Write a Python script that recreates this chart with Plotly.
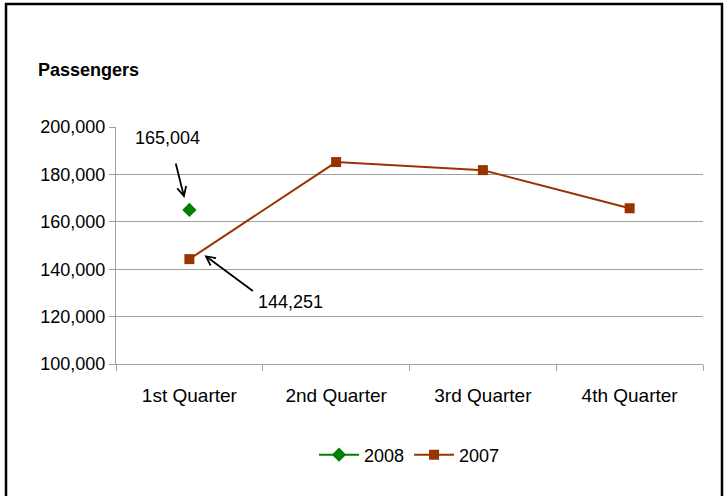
import plotly.graph_objects as go

categories = ["1st Quarter", "2nd Quarter", "3rd Quarter", "4th Quarter"]
series_2008 = [165004, None, None, None]
series_2007 = [144251, 185200, 181800, 165700]
ytick_vals = [100000, 120000, 140000, 160000, 180000, 200000]

FONT = "Liberation Sans, Arial, sans-serif"
BROWN = "#993300"
GREEN = "#008000"
GRID = "#A0A0A0"

W, H = 724, 496
L, R, T, B = 116, 21, 127, 132
pw, ph = W - L - R, H - T - B

def px(x):
    return (x - L) / pw

def py(y):
    return (H - B - y) / ph

fig = go.Figure()
fig.add_trace(go.Scatter(x=categories, y=series_2008, name="2008", mode="lines+markers",
                         line=dict(color=GREEN, width=2),
                         marker=dict(symbol="diamond", size=11, color=GREEN)))
fig.add_trace(go.Scatter(x=categories, y=series_2007, name="2007", mode="lines+markers",
                         line=dict(color=BROWN, width=2),
                         marker=dict(symbol="square", size=10, color=BROWN)))

annotations = [
    dict(x=categories[0], y=series_2008[0], xref="x", yref="y", text="", showarrow=True,
         xshift=-5, yshift=12, ax=-9, ay=-36, arrowhead=5, arrowsize=1, arrowwidth=1.8,
         arrowcolor="black", standoff=0),
    dict(x=categories[0], y=series_2007[0], xref="x", yref="y", text="", showarrow=True,
         xshift=15, yshift=4, ax=50, ay=37, arrowhead=5, arrowsize=1, arrowwidth=1.8,
         arrowcolor="black", standoff=0),
    dict(x=px(167), y=py(138), xref="paper", yref="paper", text=f"{series_2008[0]:,}",
         showarrow=False, xanchor="center", yanchor="middle",
         font=dict(family=FONT, size=18, color="black")),
    dict(x=px(290), y=py(302), xref="paper", yref="paper", text=f"{series_2007[0]:,}",
         showarrow=False, xanchor="center", yanchor="middle",
         font=dict(family=FONT, size=18, color="black")),
    dict(x=px(36), y=py(70), xref="paper", yref="paper", text="<b>Passengers</b>",
         showarrow=False, xanchor="left", yanchor="middle",
         font=dict(family=FONT, size=18, color="black")),
]

shapes = [
    dict(type="rect", xref="paper", yref="paper", x0=px(6), x1=px(722), y0=py(4), y1=py(510),
         line=dict(color="black", width=2.5), fillcolor="rgba(0,0,0,0)", layer="above"),
]

fig.update_layout(
    width=W, height=H,
    margin=dict(l=L, r=R, t=T, b=B),
    paper_bgcolor="white", plot_bgcolor="white",
    font=dict(family=FONT, size=18, color="black"),
    showlegend=True,
    legend=dict(orientation="h", x=0.5, xanchor="center", y=py(455), yanchor="middle",
                font=dict(family=FONT, size=18), itemwidth=40, traceorder="normal"),
    annotations=annotations,
    shapes=shapes,
    xaxis=dict(type="category", range=[-0.5, 3.5], showgrid=False, showline=True,
               linecolor=GRID, linewidth=1, ticks="outside", tickson="boundaries",
               ticklen=6, tickcolor=GRID, tickfont=dict(size=19), ticklabelstandoff=14,
               fixedrange=True),
    yaxis=dict(range=[100000, 200000], tickvals=ytick_vals, tickformat=",",
               showgrid=True, gridcolor=GRID, gridwidth=1, showline=True,
               linecolor=GRID, linewidth=1, ticks="outside", ticklen=6, tickcolor=GRID,
               tickfont=dict(size=18), zeroline=False, fixedrange=True),
)

fig.write_html("out.html", config={"displayModeBar": False},
               post_script="document.body.style.margin='0';document.body.style.overflow='hidden';")
